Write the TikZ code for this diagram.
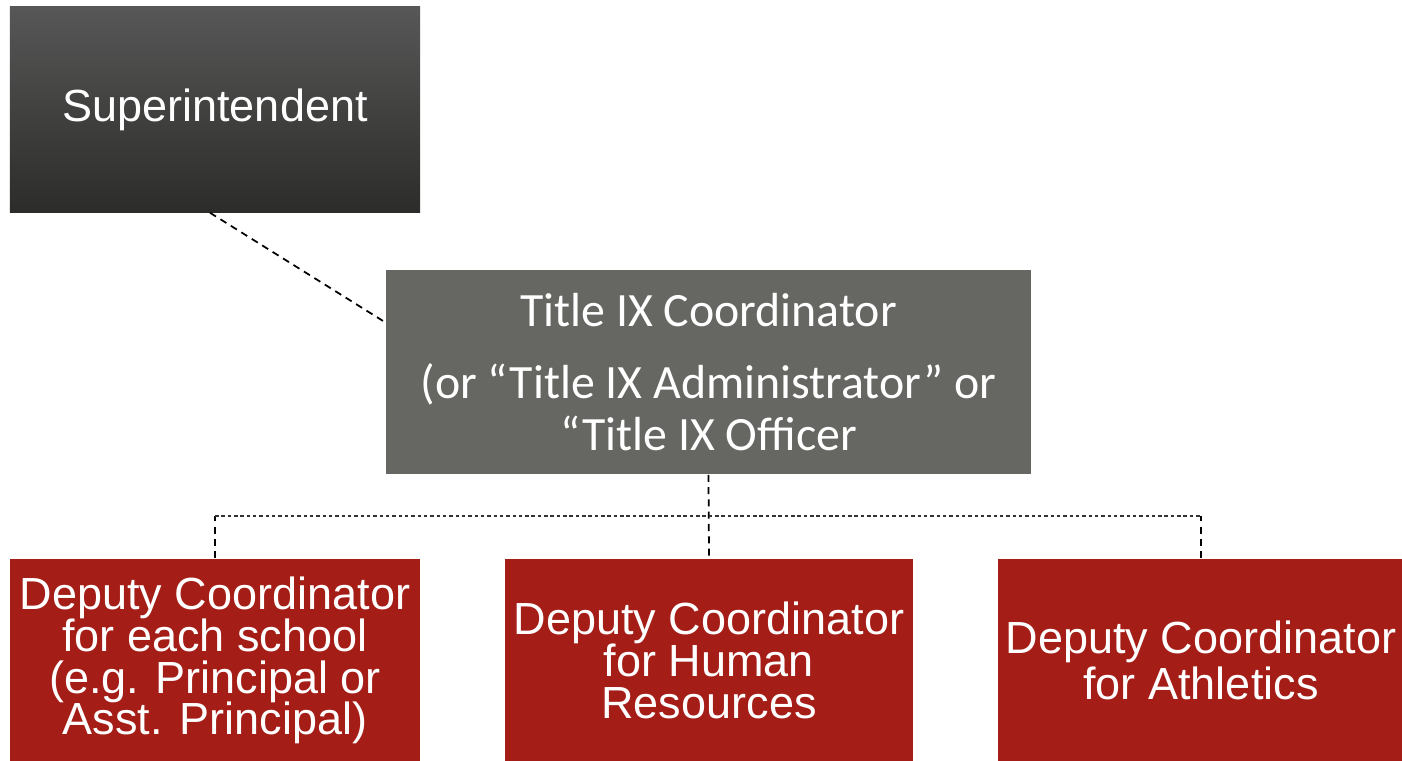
\documentclass[tikz,border=0pt]{standalone}
\usepackage{fontspec}
\usepackage{xcolor}
\usepackage{tikz}
\setmainfont{Liberation Sans}
\newfontfamily\calibri{Carlito}
\newcommand\tightlines{\setlength{\lineskiplimit}{-20pt}\setlength{\lineskip}{0pt}}
\definecolor{supertop}{HTML}{575757}
\definecolor{superbot}{HTML}{2C2C2A}
\definecolor{titlegray}{HTML}{666762}
\definecolor{deputyred}{HTML}{A51D17}
\begin{document}
\begin{tikzpicture}[x=0.01cm,y=-0.01cm,
	box/.style={rectangle,inner sep=0pt,text=white,align=center,minimum height=2.03cm},
	redbox/.style={box,fill=deputyred,font=\fontsize{12.8}{11.9}\selectfont\tightlines},
	conn/.style={black,line width=0.5pt,dash pattern=on 2pt off 1.5pt},
	bus/.style={black!80,line width=0.5pt,dash pattern=on 1pt off 0.8pt}]
			\useasboundingbox (0,0) rectangle (1402,761);
			% Hộp trên cùng
			\node[box,minimum width=4.1cm,minimum height=2.05cm,top color=supertop,bottom color=superbot,
				font=\fontsize{12.8}{15}\selectfont] (super) at (215,109.5) {Superintendent};
			\node[box,minimum width=6.45cm,minimum height=2.04cm,fill=titlegray,
				font=\calibri\fontsize{13.6}{14.8}\selectfont] (title) at (708.5,372)
				{Title IX Coordinator\\[5.5pt](or “Title IX Administrator” or\\“Title IX Officer};
			% Hộp phó điều phối
			\node[redbox,minimum width=4.1cm] (d1) at (215,660.5)
				{Deputy Coordinator\\for each school\\(e.g. Principal or\\Asst. Principal)};
			\node[redbox,minimum width=4.08cm] (d2) at (709,660.5)
				{Deputy Coordinator\\for Human\\Resources};
			\node[redbox,minimum width=4.06cm,font=\fontsize{12.8}{13}\selectfont\tightlines] (d3) at (1201,660.5)
				{Deputy Coordinator\\for Athletics};
			% Đường nối
			\draw[conn] ([xshift=-0.05cm]super.south) -- ([yshift=-0.53cm]title.north west);
			\draw[conn] (title.south) -- (d2.north);
			\draw[conn] (d1.north) -- ++(0,-42) coordinate (bl);
			\draw[conn] (d3.north) -- ++(0,-42) coordinate (br);
			\draw[bus] (bl) -- (br);
		\end{tikzpicture}
\end{document}
